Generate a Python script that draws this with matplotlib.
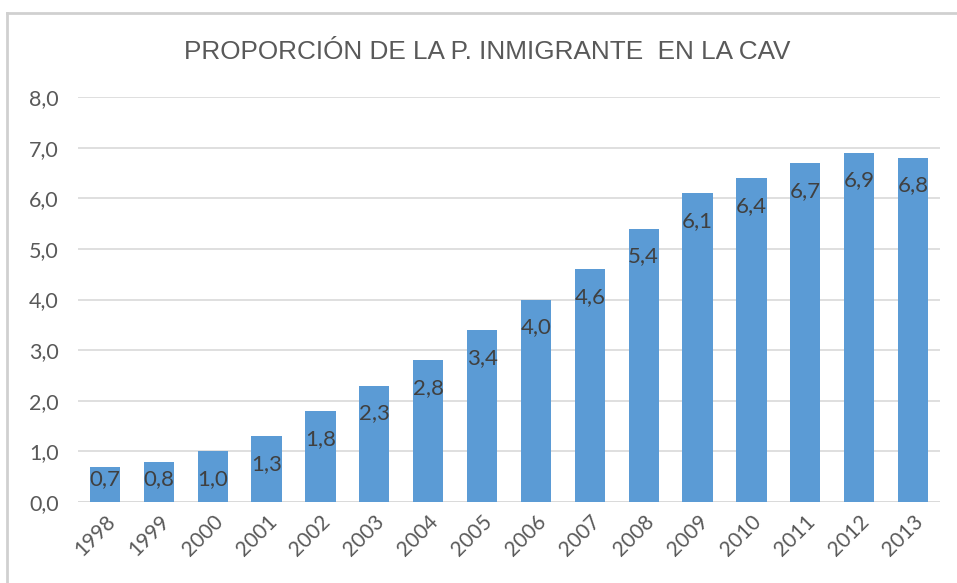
import matplotlib.pyplot as plt
from matplotlib.lines import Line2D

# proportion of immigrant population in the CAV, per year (%)
years = ["1998", "1999", "2000", "2001", "2002", "2003", "2004", "2005",
         "2006", "2007", "2008", "2009", "2010", "2011", "2012", "2013"]
values = [0.7, 0.8, 1.0, 1.3, 1.8, 2.3, 2.8, 3.4,
          4.0, 4.6, 5.4, 6.1, 6.4, 6.7, 6.9, 6.8]
yticks = [0, 1, 2, 3, 4, 5, 6, 7, 8]

W, H = 957, 583
fig = plt.figure(figsize=(W / 100, H / 100), dpi=100)
ax = fig.add_axes([78 / W, 1 - 502 / H, (940 - 78) / W, (502 - 97) / H])

bar_color = "#5b9bd5"
text_color = "#595959"

x = range(len(years))
ax.bar(x, values, width=0.56, color=bar_color, zorder=2)

# value labels inside the top of each bar
for i, v in enumerate(values):
    ly = max(v - 0.55, 0.46)
    ax.text(i, ly, f"{v:.1f}".replace(".", ","), ha="center", va="center",
            fontsize=16, color="#404040", family="Lato", zorder=3)

ax.set_xlim(-0.5, len(years) - 0.5)
ax.set_ylim(0, 8)
ax.set_yticks(yticks)
ax.set_yticklabels([f"{t:.1f}".replace(".", ",") for t in yticks],
                   fontsize=15.5, color=text_color, family="Lato")
ax.set_xticks(list(x))
ax.set_xticklabels(years, rotation=45, ha="right", rotation_mode="anchor",
                   fontsize=15, color=text_color, family="Lato")
ax.tick_params(axis="y", length=0, pad=14)
ax.tick_params(axis="x", length=0, pad=7)

ax.grid(axis="y", color="#d9d9d9", linewidth=1.2, zorder=0)
for s in ax.spines.values():
    s.set_visible(False)
ax.axhline(0, color="#d9d9d9", linewidth=1.2, zorder=1)

fig.text(487 / W, 1 - 52 / H, "PROPORCIÓN DE LA P. INMIGRANTE  EN LA CAV",
         ha="center", va="center", fontsize=18.8, color=text_color,
         family="Liberation Sans")

# chart frame (top and left edges)
fig.add_artist(Line2D([7 / W, 1], [1 - 13 / H, 1 - 13 / H],
                      transform=fig.transFigure, color="#d0d0d0", linewidth=2))
fig.add_artist(Line2D([7 / W, 7 / W], [0, 1 - 13 / H],
                      transform=fig.transFigure, color="#d0d0d0", linewidth=2))

fig.savefig("out.png", dpi=100)
